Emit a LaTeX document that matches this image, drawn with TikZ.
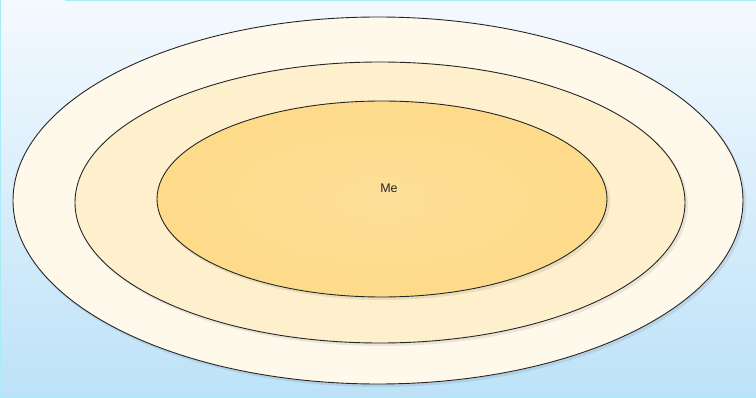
\documentclass[tikz,border=0pt]{standalone}
\usepackage{fontspec}
\setmainfont{Liberation Sans}
\definecolor{bgtop}{HTML}{F4F9FE}
\definecolor{bgbot}{HTML}{BDE2F8}
\definecolor{rimc}{HTML}{A8ECF8}
\definecolor{outerc}{HTML}{FEF9EA}
\definecolor{midc}{HTML}{FEF0CC}
\definecolor{innerc}{HTML}{FEDB8A}
\tikzset{
  ring/.style={draw=black!85, line width=0.9pt},
  dropsh/.style={fill=black, opacity=0.08},
}
\begin{document}
\begin{tikzpicture}[x=1pt,y=-1pt]
  \useasboundingbox (0,0) rectangle (756,398);
  \shade[top color=bgtop, bottom color=bgbot] (0,0) rectangle (756,398);
  \draw[rimc, line width=1pt] (65,0.5) -- (756,0.5);
  \draw[rimc, line width=1.5pt] (0,397.3) -- (756,397.3);
  \draw[rimc, line width=1pt] (0.5,0) -- (0.5,398);
  % outer
  \fill[dropsh] (380,203) ellipse [x radius=366, y radius=184];
  \path[ring, fill=outerc] (378,200.5) ellipse [x radius=365, y radius=183.5];
  \coordinate (outer) at (378,200.5);
  % middle
  \fill[dropsh] (382,205) ellipse [x radius=306, y radius=141];
  \path[ring, fill=midc] (380,202.5) ellipse [x radius=305, y radius=140.5];
  \coordinate (middle) at (380,202.5);
  % inner
  \fill[dropsh] (384,201.5) ellipse [x radius=226, y radius=98.5];
  \path[ring, inner color=innerc!88!white, outer color=innerc] (382,199) ellipse [x radius=225, y radius=98];
  \node[font=\fontsize{12.5}{15}\selectfont, text=black!85] (me) at (389,188) {Me};
\end{tikzpicture}
\end{document}
